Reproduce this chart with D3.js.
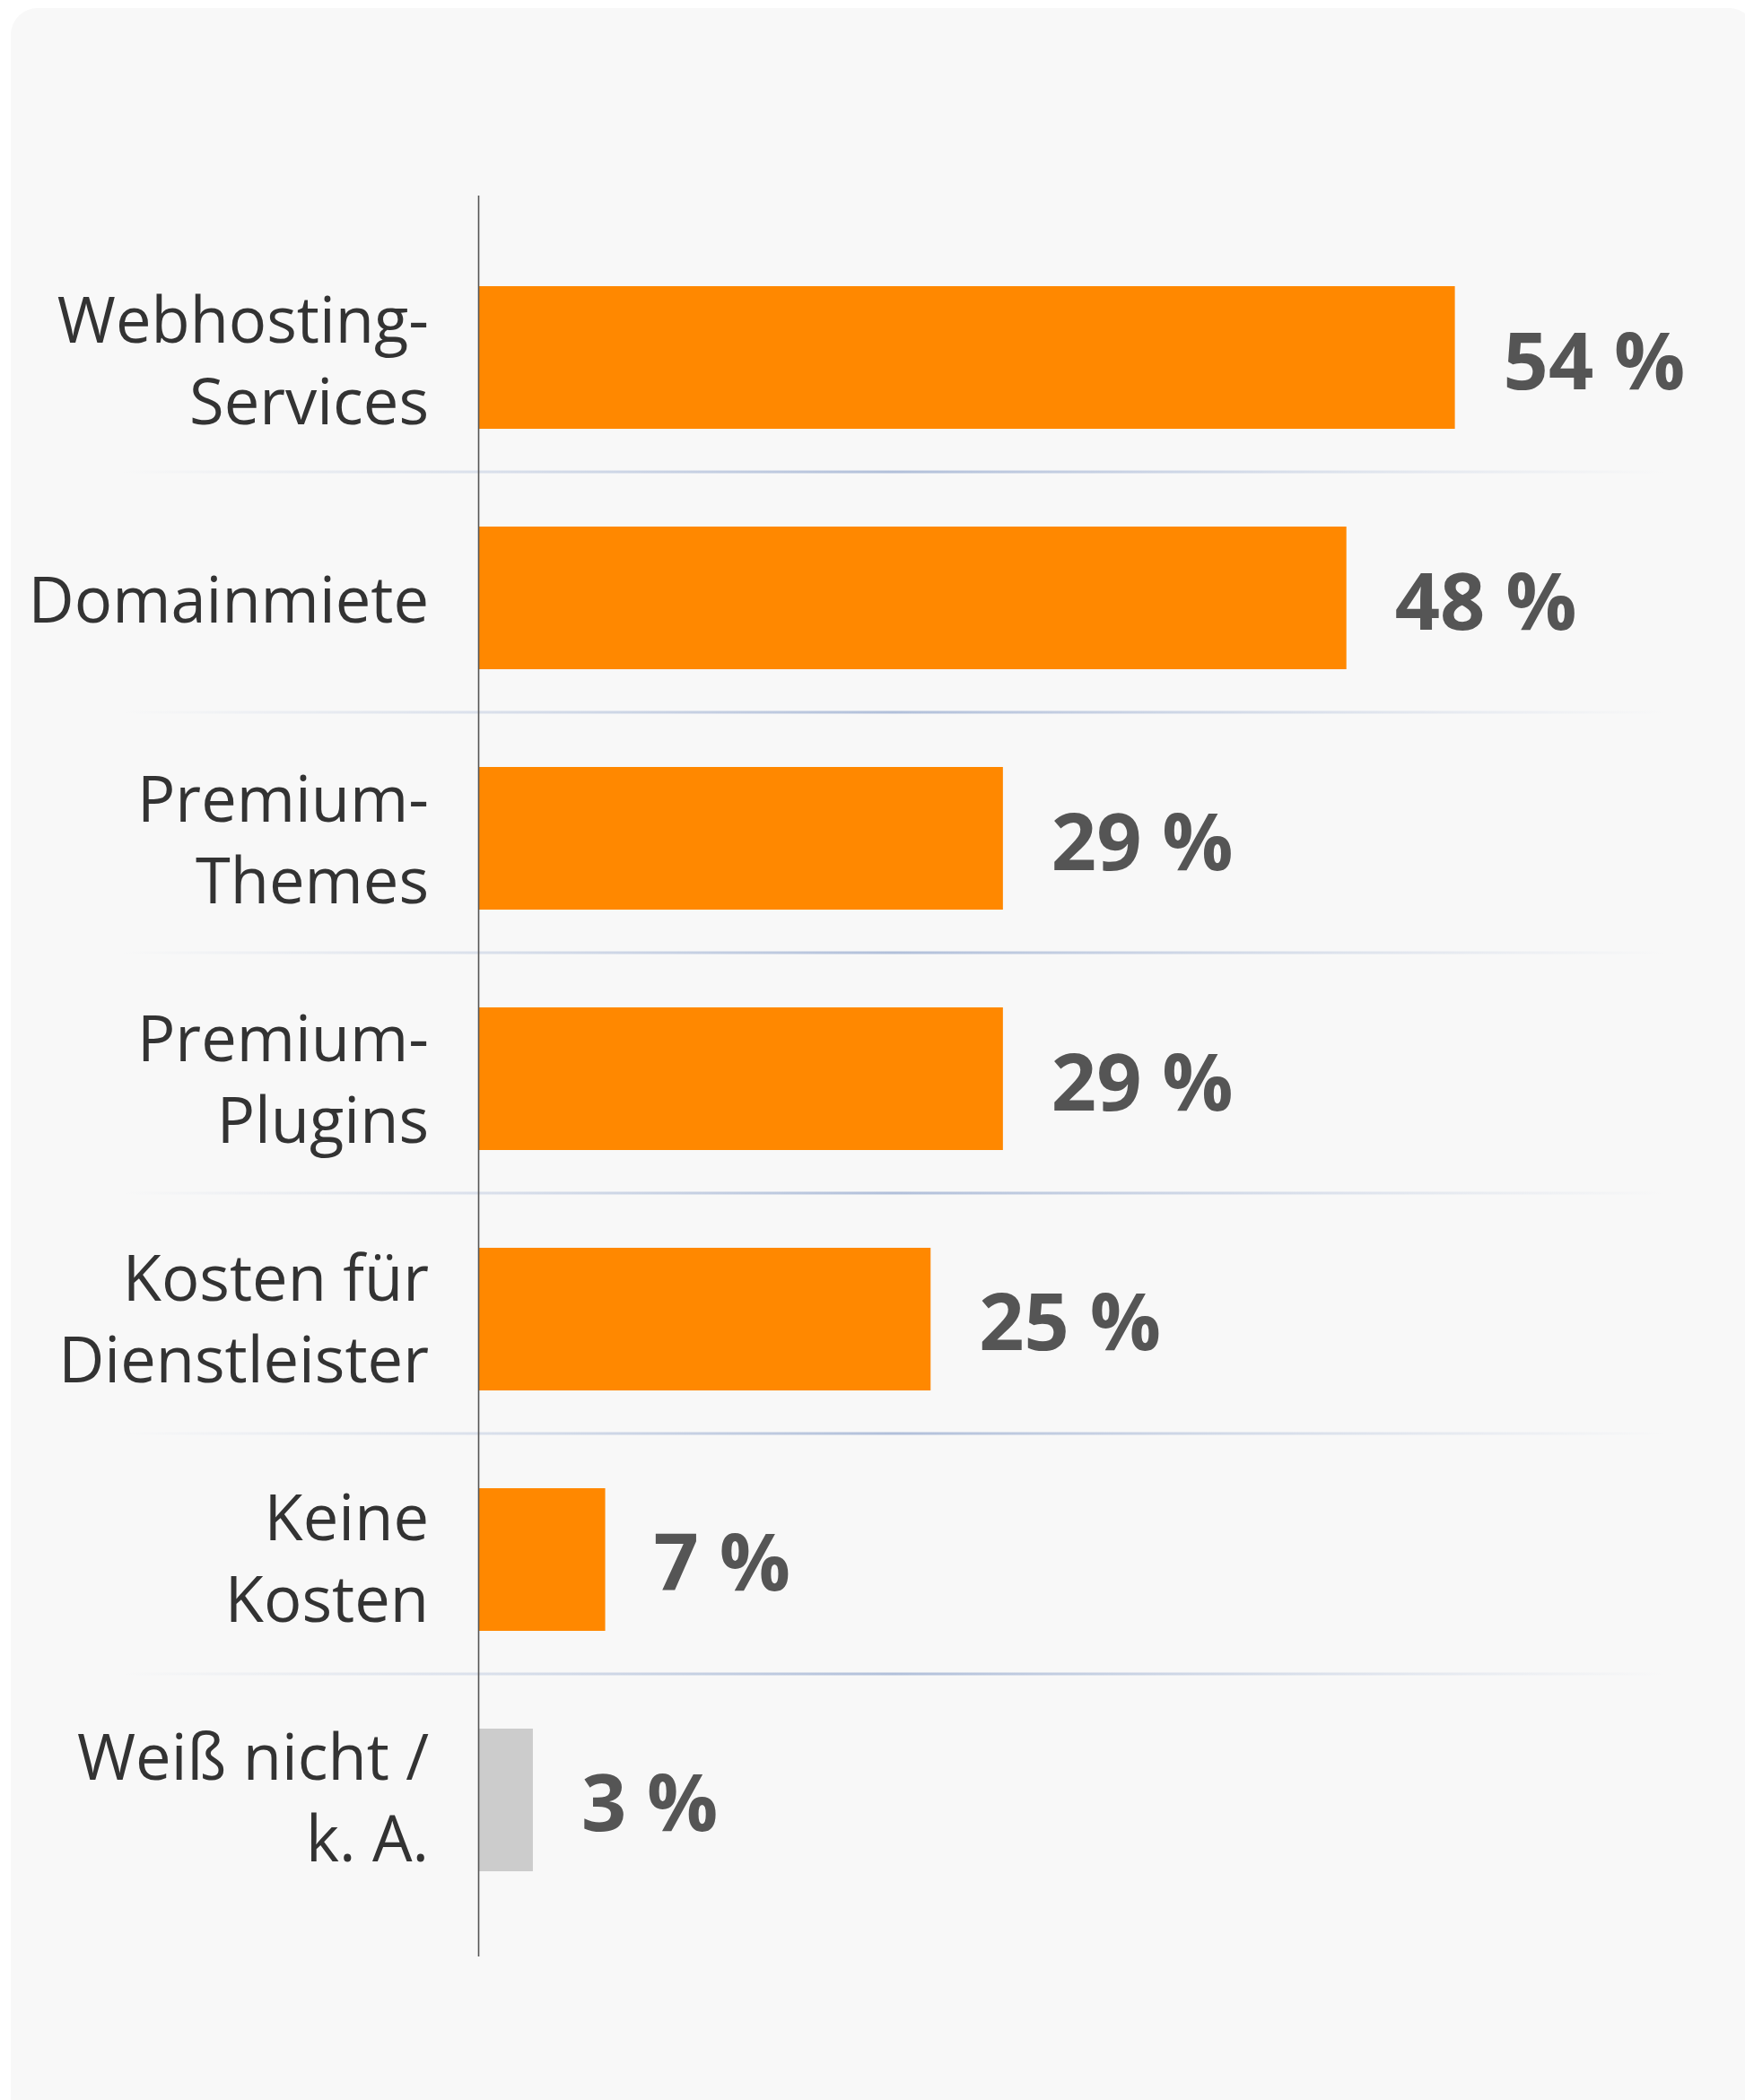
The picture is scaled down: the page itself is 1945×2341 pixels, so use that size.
<!DOCTYPE html>
<html>
<head>
<meta charset="utf-8">
<script src="https://cdn.jsdelivr.net/npm/d3@7"></script>
<style>
  html, body { margin: 0; padding: 0; background: #ffffff; }
  svg { display: block; }
</style>
</head>
<body>
<div id="chart"></div>
<script>
// ---- data ----
const categories = [
  ["Webhosting-", "Services"],
  ["Domainmiete"],
  ["Premium-", "Themes"],
  ["Premium-", "Plugins"],
  ["Kosten für", "Dienstleister"],
  ["Keine", "Kosten"],
  ["Weiß nicht /", "k. A."]
];
const values = [54, 48, 29, 29, 25, 7, 3];
const valueLabels = ["54 %", "48 %", "29 %", "29 %", "25 %", "7 %", "3 %"];
const barColors = ["#ff8800", "#ff8800", "#ff8800", "#ff8800", "#ff8800", "#ff8800", "#cccccc"];

// ---- layout ----
const W = 1945, H = 2341;
const svg = d3.select("#chart").append("svg").attr("width", W).attr("height", H);

const defs = svg.append("defs");
const grad = defs.append("linearGradient").attr("id", "sepGrad")
  .attr("x1", "0%").attr("x2", "100%").attr("y1", "0%").attr("y2", "0%");
grad.append("stop").attr("offset", "0%").attr("stop-color", "#a9b9d6").attr("stop-opacity", 0);
grad.append("stop").attr("offset", "50%").attr("stop-color", "#9aadd0").attr("stop-opacity", 1);
grad.append("stop").attr("offset", "100%").attr("stop-color", "#a9b9d6").attr("stop-opacity", 0);

// card background
svg.append("rect").attr("x", 12).attr("y", 9).attr("width", 1945).attr("height", 2400)
  .attr("rx", 30).attr("ry", 30).attr("fill", "#f8f8f8");

const keys = categories.map((c, i) => "c" + i);
const y = d3.scaleBand().domain(keys).range([218, 2187])
  .paddingInner(0.4067).paddingOuter(0.3769);
const yLab = d3.scalePoint().domain(keys).range([427, 427 + 6 * 267]);
const x = d3.scaleLinear().domain([0, 100]).range([533.5, 533.5 + 2015]);

// separators
const sepG = svg.append("g");
keys.slice(0, keys.length - 1).forEach(k => {
  const sy = y(k) + y.bandwidth() + 48;
  sepG.append("rect").attr("x", 136).attr("y", sy - 1.5).attr("width", 1720).attr("height", 3)
    .attr("fill", "url(#sepGrad)").attr("opacity", 0.75);
});

// bars
svg.append("g").selectAll("rect").data(values).join("rect")
  .attr("x", x(0))
  .attr("y", (d, i) => y(keys[i]))
  .attr("width", d => x(d) - x(0))
  .attr("height", y.bandwidth())
  .attr("fill", (d, i) => barColors[i]);

// axis line (category axis)
const yAxis = d3.axisLeft(y).tickSize(0).tickFormat("");
const axG = svg.append("g").attr("transform", `translate(${x(0)},0)`).call(yAxis);
axG.select(".domain").attr("d", "M0,218V2181").attr("stroke", "#555").attr("stroke-width", 1.6);

// category labels
const labG = svg.append("g")
  .attr("font-family", "'Open Sans', sans-serif")
  .attr("font-size", 70.5).attr("fill", "#333333").attr("text-anchor", "end");
categories.forEach((lines, i) => {
  const mid = yLab(keys[i]);
  const n = lines.length;
  lines.forEach((t, j) => {
    const off = (j - (n - 1) / 2) * 91;
    labG.append("text").attr("x", 478).attr("y", mid + off).text(t);
  });
});

// value labels
svg.append("g").selectAll("text").data(values).join("text")
  .attr("x", d => x(d) + 54)
  .attr("y", (d, i) => y(keys[i]) + y.bandwidth() / 2 + 35)
  .attr("font-family", "'Open Sans', sans-serif")
  .attr("font-weight", 700).attr("font-size", 88)
  .attr("fill", "#555555")
  .text((d, i) => valueLabels[i]);
</script>
</body>
</html>
